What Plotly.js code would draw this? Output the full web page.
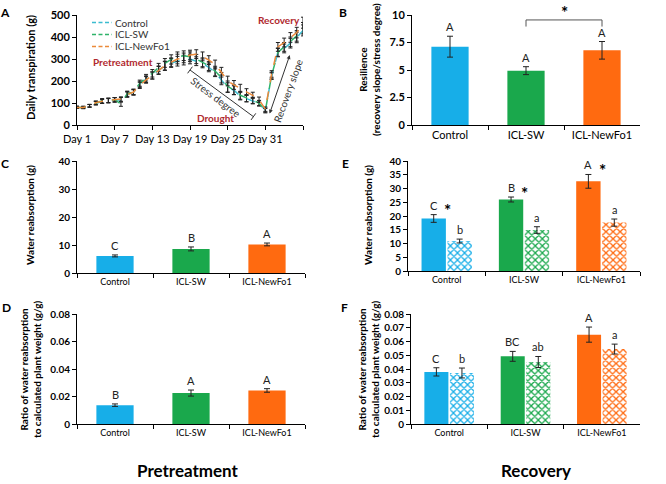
<!DOCTYPE html>
<html>
<head>
<meta charset="utf-8">
<script src="https://cdn.plot.ly/plotly-3.0.1.min.js"></script>
<style>
  html, body { margin: 0; padding: 0; background: #fff; }
  #chart { width: 666px; height: 484px; }
</style>
</head>
<body>
<div id="chart"></div>
<script>
// ---- data ----
var days = [1,2,3,4,5,6,7,8,9,10,11,12,13,14,15,16,17,18,19,20,21,22,23,24,25,26,27,28,29,30,31,32,33,34,35,36,37];
var ctrlDaily = [80,79,87,99,107,110,114,115,140,148,185,208,225,250,268,282,290,295,300,290,280,262,240,205,170,158,132,120,110,98,68,222,330,348,372,398,430];
var swDaily   = [80,80,88,100,110,112,115,95,142,150,190,215,235,262,282,298,310,315,310,300,285,268,245,215,175,160,135,122,112,100,65,225,330,355,378,405,440];
var nfDaily   = [80,80,87,101,108,112,115,118,138,150,180,205,225,248,270,285,300,305,318,322,312,295,275,240,200,182,167,150,135,115,72,232,355,375,398,420,465];
var ctrlDailyErr = [5,5,6,8,9,10,10,10,12,12,14,15,16,18,20,20,22,22,22,20,20,20,20,22,22,20,18,15,14,12,10,15,20,20,22,24,25];
var swDailyErr   = [5,5,6,8,10,10,10,10,12,13,14,15,17,18,20,21,22,22,22,21,20,20,22,24,25,22,18,16,14,12,10,15,18,20,22,24,26];
var nfDailyErr   = [5,5,6,8,10,10,10,10,12,12,14,15,16,18,20,20,22,22,22,20,20,20,20,22,22,20,18,15,14,12,10,15,20,20,22,24,25];
var seriesNames = ["Control", "ICL-SW", "ICL-NewFo1"];

var groups = ["Control", "ICL-SW", "ICL-NewFo1"];
var resil = [7.12, 4.94, 6.79];
var resilErr = [0.95, 0.36, 0.8];
var resilLet = ["A", "A", "A"];

var reabsPre = [6.1, 8.6, 10.2];
var reabsPreErr = [0.35, 0.7, 0.5];
var reabsPreLet = ["C", "B", "A"];

var ratioPre = [0.0137, 0.0225, 0.0244];
var ratioPreErr = [0.0009, 0.0022, 0.0013];
var ratioPreLet = ["B", "A", "A"];

var reabsRec1 = [19.1, 26.0, 32.6];
var reabsRec1Err = [1.4, 0.9, 2.5];
var reabsRec1Let = ["C", "B", "A"];
var reabsRec2 = [10.9, 14.9, 17.6];
var reabsRec2Err = [0.7, 1.2, 1.3];
var reabsRec2Let = ["b", "a", "a"];

var ratioRec1 = [0.0379, 0.0492, 0.065];
var ratioRec1Err = [0.003, 0.0036, 0.0055];
var ratioRec1Let = ["C", "BC", "A"];
var ratioRec2 = [0.0371, 0.0451, 0.0545];
var ratioRec2Err = [0.0036, 0.004, 0.0036];
var ratioRec2Let = ["b", "ab", "a"];

// ---- colours ----
var blue = "#17aee8", green = "#1aa84c", orange = "#ff6a10";
var lineCols = ["#3bbcd0", "#2fb36a", "#eb8a3a"];
var red = "#b0282e";

var FONT = "Lato, 'Open Sans', sans-serif";

function errBar(arr, w) {
  return { type: "data", array: arr, visible: true, color: "#222", thickness: 1, width: w };
}

var data = [];
var seriesA = [ctrlDaily, swDaily, nfDaily];
var seriesAErr = [ctrlDailyErr, swDailyErr, nfDailyErr];
seriesA.forEach(function (s, i) {
  data.push({
    type: "scatter", mode: "lines", name: seriesNames[i], x: days, y: s,
    line: { color: lineCols[i], dash: "dash", width: 1.5 },
    error_y: errBar(seriesAErr[i], 2), cliponaxis: false, showlegend: false,
    xaxis: "x", yaxis: "y", hoverinfo: "skip"
  });
});

function singleBar(vals, errs, xa, ya) {
  return {
    type: "bar", x: groups, y: vals, width: 0.49, showlegend: false,
    marker: { color: [blue, green, orange], line: { width: 0 } },
    error_y: errBar(errs, 3), xaxis: xa, yaxis: ya, hoverinfo: "skip"
  };
}
data.push(singleBar(resil, resilErr, "x2", "y2"));
data.push(singleBar(reabsPre, reabsPreErr, "x3", "y3"));
data.push(singleBar(ratioPre, ratioPreErr, "x5", "y5"));

function pairBars(v1, e1, v2, e2, xa, ya) {
  return [{
    type: "bar", x: groups, y: v1, showlegend: false, offsetgroup: "a",
    marker: { color: [blue, green, orange], line: { width: 0 } },
    error_y: errBar(e1, 3), xaxis: xa, yaxis: ya, hoverinfo: "skip"
  }, {
    type: "bar", x: groups, y: v2, showlegend: false, offsetgroup: "b",
    marker: {
      color: "white", line: { width: 0 },
      pattern: { shape: "x", fgcolor: [blue, green, orange], bgcolor: "white", size: 5, solidity: 0.45 }
    },
    error_y: errBar(e2, 3), xaxis: xa, yaxis: ya, hoverinfo: "skip"
  }];
}
data = data.concat(pairBars(reabsRec1, reabsRec1Err, reabsRec2, reabsRec2Err, "x4", "y4"));
data = data.concat(pairBars(ratioRec1, ratioRec1Err, ratioRec2, ratioRec2Err, "x6", "y6"));

// ---- axes ----
function px(x) { return x / 666; }
function py(y) { return 1 - y / 484; }

function yax(dom, range, dtick, fmt, size) {
  return {
    domain: dom, range: range, dtick: dtick, tickformat: fmt,
    showline: true, linecolor: "#000", linewidth: 1, ticks: "outside", ticklen: 4,
    tickcolor: "#000", showgrid: false, zeroline: false, fixedrange: true,
    tickfont: { family: FONT, size: size, weight: "bold", color: "#000" }
  };
}
function xcat(dom, size) {
  return {
    domain: dom, type: "category", tickson: "boundaries",
    showline: true, linecolor: "#000", linewidth: 1, ticks: "outside", ticklen: 4,
    tickcolor: "#000", showgrid: false, zeroline: false, fixedrange: true,
    tickfont: { family: FONT, size: size, color: "#000" }
  };
}

var layout = {
  width: 666, height: 484,
  margin: { l: 0, r: 0, t: 0, b: 0 },
  paper_bgcolor: "#fff", plot_bgcolor: "rgba(0,0,0,0)",
  font: { family: FONT, color: "#000" },
  barmode: "group", bargap: 0.33, bargroupgap: 0.06,
  showlegend: false,
  xaxis: {
    domain: [px(77), px(303)], range: [1, 37],
    tickvals: [1, 7, 13, 19, 25, 31, 37], ticktext: ["Day 1", "Day 7", "Day 13", "Day 19", "Day 25", "Day 31", ""],
    showline: true, linecolor: "#000", linewidth: 1, ticks: "outside", ticklen: 4,
    tickcolor: "#000", showgrid: false, zeroline: false, fixedrange: true,
    tickfont: { family: FONT, size: 11, color: "#000" }
  },
  yaxis: yax([py(125), py(15)], [0, 500], 100, "d", 11),
  xaxis2: Object.assign(xcat([px(412), px(640)], 11), { anchor: "y2" }),
  yaxis2: Object.assign(yax([py(125), py(15)], [0, 10], 2.5, "", 11), { anchor: "x2" }),
  xaxis3: Object.assign(xcat([px(77), px(305)], 9), { anchor: "y3" }),
  yaxis3: Object.assign(yax([py(273), py(161)], [0, 40], 10, "d", 10), { anchor: "x3" }),
  xaxis4: Object.assign(xcat([px(408), px(640)], 9), { anchor: "y4" }),
  yaxis4: Object.assign(yax([py(271), py(161)], [0, 40], 5, "d", 10), { anchor: "x4" }),
  xaxis5: Object.assign(xcat([px(77), px(305)], 9), { anchor: "y5" }),
  yaxis5: Object.assign(yax([py(424), py(314)], [0, 0.08], 0.02, "", 10), { anchor: "x5" }),
  xaxis6: Object.assign(xcat([px(411), px(640)], 9), { anchor: "y6" }),
  yaxis6: Object.assign(yax([py(424), py(314)], [0, 0.08], 0.01, "", 10), { anchor: "x6" }),
  shapes: [],
  annotations: []
};
layout.yaxis5.tickvals = [0, 0.02, 0.04, 0.06, 0.08];
layout.yaxis5.ticktext = ["0", "0.02", "0.04", "0.06", "0.08"];
layout.yaxis6.tickvals = [0, 0.01, 0.02, 0.03, 0.04, 0.05, 0.06, 0.07, 0.08];
layout.yaxis6.ticktext = ["0", "0.01", "0.02", "0.03", "0.04", "0.05", "0.06", "0.07", "0.08"];

var ann = layout.annotations, shp = layout.shapes;

function letters(xa, ya, vals, errs, labs, off) {
  vals.forEach(function (v, i) {
    ann.push({ xref: xa, yref: ya, x: i + off, y: v + errs[i], text: labs[i], showarrow: false,
      xanchor: "center", yanchor: "bottom", yshift: 1, font: { family: FONT, size: 11, color: "#222" } });
  });
}
letters("x2", "y2", resil, resilErr, resilLet, 0);
letters("x3", "y3", reabsPre, reabsPreErr, reabsPreLet, 0);
letters("x5", "y5", ratioPre, ratioPreErr, ratioPreLet, 0);
letters("x4", "y4", reabsRec1, reabsRec1Err, reabsRec1Let, -0.168);
letters("x4", "y4", reabsRec2, reabsRec2Err, reabsRec2Let, 0.168);
letters("x6", "y6", ratioRec1, ratioRec1Err, ratioRec1Let, -0.168);
letters("x6", "y6", ratioRec2, ratioRec2Err, ratioRec2Let, 0.168);

// significance stars in E
reabsRec1.forEach(function (v, i) {
  ann.push({ xref: "x4", yref: "y4", x: i + 0.01, y: v + reabsRec1Err[i], text: "<b>*</b>", showarrow: false,
    xanchor: "center", yanchor: "middle", yshift: 4, font: { family: FONT, size: 17, color: "#000" } });
});

// bracket in B
shp.push({ type: "path", xref: "x2", yref: "y2", path: "M 1,8.95 L 1,9.55 L 2,9.55 L 2,8.95",
  line: { color: "#555", width: 1 } });
ann.push({ xref: "x2", yref: "paper", x: 1.5, y: py(13), text: "<b>*</b>", showarrow: false,
  xanchor: "center", yanchor: "middle", font: { family: FONT, size: 17, color: "#000" } });

// legend of panel A
seriesNames.forEach(function (n, i) {
  var yy = 22.5 + i * 12;
  shp.push({ type: "line", xref: "paper", yref: "paper", x0: px(92), x1: px(112), y0: py(yy), y1: py(yy),
    line: { color: lineCols[i], dash: "4px,2.5px", width: 1.5 } });
  ann.push({ xref: "paper", yref: "paper", x: px(113), y: py(yy), text: n, showarrow: false,
    xanchor: "left", yanchor: "middle", font: { family: FONT, size: 10, color: "#333" } });
});

// panel A decorations
shp.push({ type: "line", xref: "x", yref: "y", x0: 19, y0: 250, x1: 29.1, y1: 38, line: { color: "#333", width: 1 } });
shp.push({ type: "line", xref: "x", yref: "y", x0: 18.62, y0: 235, x1: 19.38, y1: 265, line: { color: "#333", width: 1 } });
shp.push({ type: "line", xref: "x", yref: "y", x0: 28.72, y0: 23, x1: 29.48, y1: 53, line: { color: "#333", width: 1 } });
ann.push({ xref: "x", yref: "y", x: 34.9, y: 318, ax: 31.6, ay: 45, axref: "x", ayref: "y", text: "",
  showarrow: true, arrowhead: 2, startarrowhead: 2, arrowside: "end+start", arrowsize: 0.8, arrowwidth: 1,
  arrowcolor: "#333", standoff: 0, startstandoff: 0 });
ann.push({ xref: "x", yref: "y", x: 34.6, y: 155, text: "Recovery slope", textangle: -70, showarrow: false,
  xanchor: "center", yanchor: "middle", font: { family: FONT, size: 10, color: "#333" } });
ann.push({ xref: "x", yref: "y", x: 23.05, y: 125, text: "Stress degree", textangle: 37, showarrow: false,
  xanchor: "center", yanchor: "middle", font: { family: FONT, size: 10, color: "#333" } });
ann.push({ xref: "x", yref: "y", x: 23.0, y: 30, text: "<b>Drought</b>", showarrow: false,
  xanchor: "center", yanchor: "middle", font: { family: FONT, size: 10, color: red } });
ann.push({ xref: "x", yref: "y", x: 33.2, y: 477, text: "<b>Recovery</b>", showarrow: false,
  xanchor: "center", yanchor: "middle", font: { family: FONT, size: 10, color: red } });
ann.push({ xref: "x", yref: "y", x: 8.4, y: 286, text: "<b>Pretreatment</b>", showarrow: false,
  xanchor: "center", yanchor: "middle", font: { family: FONT, size: 10, color: red } });

// axis titles
function ytitle(x, y, text, size) {
  ann.push({ xref: "paper", yref: "paper", x: px(x), y: py(y), text: "<b>" + text + "</b>", textangle: -90,
    xanchor: "center", yanchor: "middle", showarrow: false, font: { family: FONT, size: size, color: "#000" } });
}
ytitle(31, 68, "Daily transpiration (g)", 11);
ytitle(370, 70, "Resilience<br>(recovery slope/stress degree)", 10);
ytitle(30, 215, "Water reabsorption (g)", 10);
ytitle(368, 215, "Water reabsorption (g)", 10);
ytitle(30, 370, "Ratio of water reabsorption<br>to calculated plant weight (g/g)", 10);
ytitle(368, 370, "Ratio of water reabsorption<br>to calculated plant weight (g/g)", 10);

// panel letters
[["A", 5, 12], ["B", 343, 12], ["C", 5, 163], ["E", 345, 163], ["D", 6, 307], ["F", 344, 307]].forEach(function (l) {
  ann.push({ xref: "paper", yref: "paper", x: px(l[1]), y: py(l[2]), text: "<b>" + l[0] + "</b>", showarrow: false,
    xanchor: "center", yanchor: "middle", font: { family: FONT, size: 12, color: "#000" } });
});

// bottom labels
ann.push({ xref: "paper", yref: "paper", x: px(188), y: py(470), text: "<b>Pretreatment</b>", showarrow: false,
  xanchor: "center", yanchor: "middle", font: { family: FONT, size: 17, color: "#000" } });
ann.push({ xref: "paper", yref: "paper", x: px(536), y: py(470), text: "<b>Recovery</b>", showarrow: false,
  xanchor: "center", yanchor: "middle", font: { family: FONT, size: 17, color: "#000" } });

Plotly.newPlot("chart", data, layout, { staticPlot: true, displayModeBar: false });
</script>
</body>
</html>
